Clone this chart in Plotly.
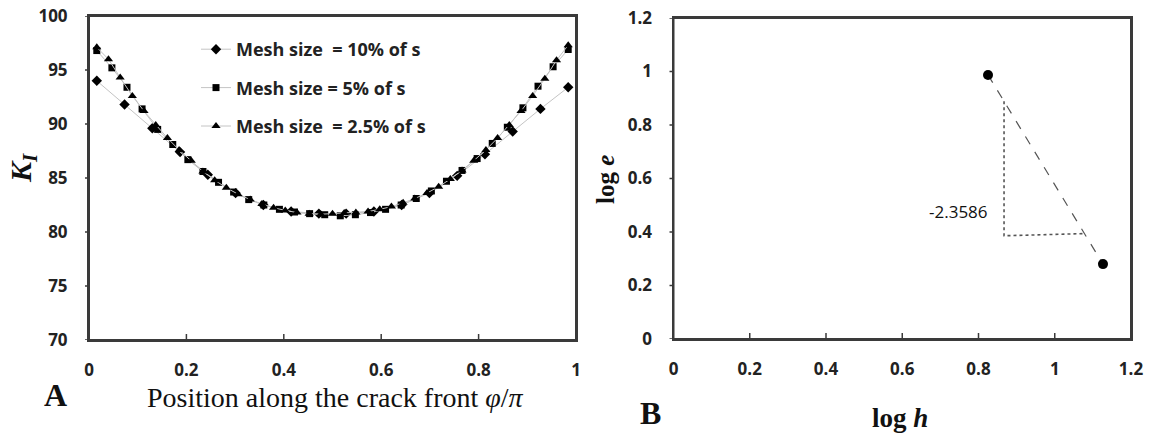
import plotly.graph_objects as go

# ---------------- Panel A data ----------------
x_10 = [0.016, 0.073, 0.130, 0.187, 0.244, 0.301, 0.358, 0.415, 0.472,
        0.528, 0.585, 0.642, 0.699, 0.756, 0.813, 0.870, 0.927, 0.984]
k_10 = [94.0, 91.8, 89.6, 87.4, 85.3, 83.6, 82.5, 81.9, 81.7,
        81.7, 81.9, 82.5, 83.6, 85.2, 87.2, 89.3, 91.4, 93.4]

x_5 = [0.016, 0.047, 0.078, 0.109, 0.141, 0.172, 0.203, 0.234, 0.266, 0.297,
       0.328, 0.359, 0.391, 0.422, 0.453, 0.484, 0.516, 0.547, 0.578, 0.609,
       0.641, 0.672, 0.703, 0.734, 0.766, 0.797, 0.828, 0.859, 0.891, 0.922,
       0.953, 0.984]
k_5 = [96.8, 95.2, 93.4, 91.4, 89.5, 88.1, 86.7, 85.6, 84.6, 83.7,
       83.0, 82.5, 82.1, 81.85, 81.7, 81.6, 81.5, 81.6, 81.8, 82.1,
       82.5, 83.1, 83.8, 84.7, 85.7, 86.8, 88.2, 89.7, 91.5, 93.5,
       95.3, 96.9]

x_25 = [0.016, 0.040, 0.064, 0.089, 0.113, 0.137, 0.161, 0.185, 0.210, 0.234,
        0.258, 0.282, 0.306, 0.331, 0.355, 0.379, 0.403, 0.427, 0.452, 0.476,
        0.500, 0.524, 0.548, 0.573, 0.597, 0.621, 0.645, 0.669, 0.694, 0.718,
        0.742, 0.766, 0.790, 0.815, 0.839, 0.863, 0.887, 0.911, 0.936, 0.960,
        0.984]
k_25 = [97.1, 96.0, 94.3, 92.6, 91.2, 89.9, 88.7, 87.6, 86.6, 85.6,
        84.8, 84.1, 83.5, 83.0, 82.6, 82.25, 82.0, 81.8, 81.7, 81.65,
        81.7, 81.75, 81.8, 81.9, 82.1, 82.35, 82.7, 83.1, 83.6, 84.2,
        84.9, 85.7, 86.6, 87.6, 88.7, 89.9, 91.2, 92.6, 94.2, 95.9,
        97.3]

names_a = ["Mesh size\u00a0 = 10% of s", "Mesh size = 5% of s", "Mesh size\u00a0 = 2.5% of s"]

xa_range = [0, 1]
ya_range = [70, 100]
xa_ticks = [0, 0.2, 0.4, 0.6, 0.8, 1]
xa_labels = ["0", "0.2", "0.4", "0.6", "0.8", "1"]
ya_ticks = [70, 75, 80, 85, 90, 95, 100]
ya_labels = ["70", "75", "80", "85", "90", "95", "100"]

# ---------------- Panel B data ----------------
log_h = [0.825, 1.1265]
log_e = [0.987, 0.280]
tri_x = [0.867, 0.867, 1.077]
tri_y = [0.889, 0.386, 0.394]
slope_label = "-2.3586"
slope_pos = (0.747, 0.475)

xb_range = [0, 1.2]
yb_range = [0, 1.2]
xb_ticks = [0, 0.2, 0.4, 0.6, 0.8, 1, 1.2]
xb_labels = ["0", "0.2", "0.4", "0.6", "0.8", "1", "1.2"]
yb_ticks = [0, 0.2, 0.4, 0.6, 0.8, 1, 1.2]
yb_labels = ["0", "0.2", "0.4", "0.6", "0.8", "1", "1.2"]

# ---------------- figure ----------------
W, H = 1155, 434
SANS = "Open Sans"
SERIF = "Liberation Serif"
AX = "#3a3a3a"
LINEC = "#c4c4c4"

dom_xa = [89 / W, 576 / W]
dom_ya = [1 - 340 / H, 1 - 16 / H]
dom_xb = [673.5 / W, 1131 / W]
dom_yb = [1 - 339 / H, 1 - 18 / H]

fig = go.Figure()

fig.add_trace(go.Scatter(x=x_10, y=k_10, mode="lines+markers", name=names_a[0],
                         line=dict(color=LINEC, width=1),
                         marker=dict(symbol="diamond", size=8, color="black"),
                         legendgroup="g1", xaxis="x", yaxis="y"))
fig.add_trace(go.Scatter(x=x_5, y=k_5, mode="lines+markers", name=names_a[1],
                         line=dict(color=LINEC, width=1),
                         marker=dict(symbol="square", size=7, color="black"),
                         legendgroup="g2", xaxis="x", yaxis="y"))
fig.add_trace(go.Scatter(x=x_25, y=k_25, mode="lines+markers", name=names_a[2],
                         line=dict(color=LINEC, width=1),
                         marker=dict(symbol="triangle-up", size=8, color="black"),
                         legendgroup="g3", xaxis="x", yaxis="y"))

fig.add_trace(go.Scatter(x=log_h, y=log_e, mode="lines",
                         line=dict(color="#555555", width=1.2, dash="dash"),
                         showlegend=False, xaxis="x2", yaxis="y2"))
fig.add_trace(go.Scatter(x=tri_x, y=tri_y, mode="lines",
                         line=dict(color="#555555", width=1.6, dash="dot"),
                         showlegend=False, xaxis="x2", yaxis="y2"))
fig.add_trace(go.Scatter(x=log_h, y=log_e, mode="markers",
                         marker=dict(symbol="circle", size=10, color="black"),
                         showlegend=False, xaxis="x2", yaxis="y2"))

tickfont = dict(family=SANS, size=17, color="#222222", weight="bold")

# axis labels: transparent major ticks only push the labels out
base_x = dict(showgrid=False, zeroline=False, showline=True, linecolor=AX, linewidth=2,
              mirror=True, ticks="outside", ticklen=14, tickwidth=1,
              tickcolor="rgba(0,0,0,0)", tickfont=tickfont, automargin=False)
base_y = dict(showgrid=False, zeroline=False, showline=True, linecolor=AX, linewidth=2,
              mirror=True, ticks="outside", ticklen=16, tickwidth=1,
              tickcolor="rgba(0,0,0,0)", tickfont=tickfont, automargin=False)

fig.update_layout(
    width=W, height=H,
    margin=dict(l=0, r=0, t=0, b=0),
    paper_bgcolor="white", plot_bgcolor="white",
    showlegend=True,
    legend=dict(x=196 / W, y=1 - 31 / H, xanchor="left", yanchor="top",
                bgcolor="rgba(0,0,0,0)", tracegroupgap=12,
                font=dict(family=SANS, size=18, color="#222222", weight="bold")),
    xaxis=dict(domain=dom_xa, range=xa_range, tickvals=xa_ticks,
               ticktext=xa_labels, anchor="y", **base_x),
    yaxis=dict(domain=dom_ya, range=ya_range, tickvals=ya_ticks,
               ticktext=ya_labels, anchor="x", **base_y),
    xaxis2=dict(domain=dom_xb, range=xb_range, tickvals=xb_ticks,
                ticktext=xb_labels, anchor="y2", **base_x),
    yaxis2=dict(domain=dom_yb, range=yb_range, tickvals=yb_ticks,
                ticktext=yb_labels, anchor="x2", **base_y),
)

# plot frames drawn in axis-domain coordinates
for xr, yr in (("x domain", "y domain"), ("x2 domain", "y2 domain")):
    fig.add_shape(type="rect", xref=xr, yref=yr, x0=0, x1=1, y0=0, y1=1,
                  line=dict(color=AX, width=2), fillcolor="rgba(0,0,0,0)", layer="above")

# tick marks at the axis tick values: x ticks point inward (up), y ticks outward (left)
XT_LEN, YT_LEN = 6, 4
for xr, xt, ydom in (("x", xa_ticks, dom_ya), ("x2", xb_ticks, dom_yb)):
    frac = XT_LEN / ((ydom[1] - ydom[0]) * H)
    for v in xt[1:-1]:
        fig.add_shape(type="line", xref=xr, yref=xr.replace("x", "y") + " domain",
                      x0=v, x1=v, y0=0, y1=frac,
                      line=dict(color=AX, width=1.5), layer="above")
for yr, yt, xdom in (("y", ya_ticks, dom_xa), ("y2", yb_ticks, dom_xb)):
    for v in yt:
        fig.add_shape(type="line", xref="paper", yref=yr,
                      x0=xdom[0] - YT_LEN / W, x1=xdom[0], y0=v, y1=v,
                      line=dict(color=AX, width=1.5), layer="above")

def px_ann(text, x, y, size, family, angle=0, color="#111111"):
    fig.add_annotation(text=text, x=x / W, y=1 - y / H, xref="paper", yref="paper",
                       showarrow=False, xanchor="center", yanchor="middle",
                       textangle=angle, font=dict(family=family, size=size, color=color))

px_ann("Position along the crack front <i>φ</i>/<i>π</i>", 335, 397, 28, SERIF)
px_ann("<b>A</b>", 55, 395, 32, SERIF)
px_ann("<b>B</b>", 650, 413, 32, SERIF)
px_ann("<b><i>K<sub>I</sub></i></b>", 23, 168, 30, SERIF, angle=-90)
px_ann("<b>log <i>e</i></b>", 605, 180, 25, SERIF, angle=-90)
px_ann("<b>log <i>h</i></b>", 900, 418, 27, SERIF)

fig.add_annotation(text=slope_label, x=slope_pos[0], y=slope_pos[1], xref="x2", yref="y2",
                   showarrow=False, xanchor="center", yanchor="middle",
                   font=dict(family=SANS, size=17, color="#111111"))

fig.write_html("out.html")
